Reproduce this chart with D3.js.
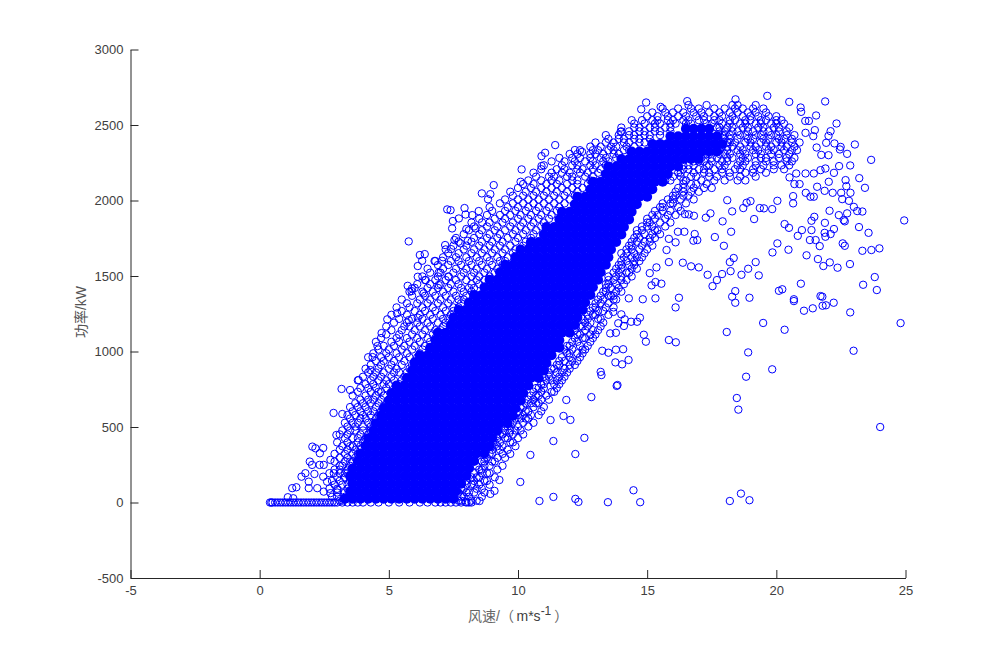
<!DOCTYPE html>
<html><head><meta charset="utf-8">
<script src="https://cdn.jsdelivr.net/npm/d3@7/dist/d3.min.js"></script>
<style>html,body{margin:0;background:#fff}svg{display:block}</style></head>
<body><svg id="c" width="1000" height="650"></svg>
<script>
const xTicks=[-5,0,5,10,15,20,25];
const yTicks=[-500,0,500,1000,1500,2000,2500,3000];
const xTitleHead="风速/（";
const xTitleUnit="m*s";
const xTitleExp="-1";
const xTitleTail="）";
const yTitle="功率/kW";
const zeroWind=[0.4,0.45,0.5,0.6,0.7,0.8,0.9,1,1.1,1.2,1.3,1.4,1.5,1.6,1.7,1.8,1.9,2,2.1,2.2,2.3,2.4,2.5,2.6,2.7,2.8,2.9,3,3.2,3.4,3.6,3.8,4,4.3,4.6,5,5.4,5.8,6.2,6.5,6.8,7,7.2,7.4,7.6,7.8,8,8.1,8.2];
const corePower=[25,75,125,175,225,275,325,375,425,475,525,575,625,675,725,775,825,875,925,975,1025,1075,1125,1175,1225,1275,1325,1375,1425,1475,1525,1575,1625,1675,1725,1775,1825,1875,1925,1975,2025,2075,2125,2175,2225,2275,2325,2375,2425,2475];
const coreWind=[
[3.3,3.6,3.9,4.2,4.5,4.8,5.1,5.4,5.7,6,6.3,6.6,6.9,7.2,7.5],
[3.5,3.8,4.1,4.4,4.7,5,5.3,5.6,5.9,6.2,6.5,6.8,7.1,7.4,7.6],
[3.6,3.9,4.2,4.5,4.8,5.1,5.4,5.7,6,6.3,6.6,6.9,7.2,7.5,7.8],
[3.5,3.8,4.1,4.4,4.7,5,5.3,5.6,5.9,6.2,6.5,6.8,7.1,7.4,7.7,8],
[3.6,3.9,4.2,4.5,4.8,5.1,5.4,5.7,6,6.3,6.6,6.9,7.2,7.5,7.8,8.1],
[3.8,4.1,4.4,4.7,5,5.3,5.6,5.9,6.2,6.5,6.8,7.1,7.4,7.7,8,8.3],
[3.9,4.2,4.5,4.8,5.1,5.4,5.7,6,6.3,6.6,6.9,7.2,7.5,7.8,8.1,8.4,8.7],
[4.1,4.4,4.7,5,5.3,5.6,5.9,6.2,6.5,6.8,7.1,7.4,7.7,8,8.3,8.6,8.9],
[4.2,4.5,4.8,5.1,5.4,5.7,6,6.3,6.6,6.9,7.2,7.5,7.8,8.1,8.4,8.7,9],
[4.4,4.7,5,5.3,5.6,5.9,6.2,6.5,6.8,7.1,7.4,7.7,8,8.3,8.6,8.9,9.2],
[4.5,4.8,5.1,5.4,5.7,6,6.3,6.6,6.9,7.2,7.5,7.8,8.1,8.4,8.7,9,9.3,9.6],
[4.7,5,5.3,5.6,5.9,6.2,6.5,6.8,7.1,7.4,7.7,8,8.3,8.6,8.9,9.2,9.5,9.8],
[4.8,5.1,5.4,5.7,6,6.3,6.6,6.9,7.2,7.5,7.8,8.1,8.4,8.7,9,9.3,9.6,9.9],
[5,5.3,5.6,5.9,6.2,6.5,6.8,7.1,7.4,7.7,8,8.3,8.6,8.9,9.2,9.5,9.8,10.1],
[5.1,5.4,5.7,6,6.3,6.6,6.9,7.2,7.5,7.8,8.1,8.4,8.7,9,9.3,9.6,9.9,10.2],
[5.3,5.6,5.9,6.2,6.5,6.8,7.1,7.4,7.7,8,8.3,8.6,8.9,9.2,9.5,9.8,10.1,10.4],
[5.7,6,6.3,6.6,6.9,7.2,7.5,7.8,8.1,8.4,8.7,9,9.3,9.6,9.9,10.2,10.5,10.8],
[5.9,6.2,6.5,6.8,7.1,7.4,7.7,8,8.3,8.6,8.9,9.2,9.5,9.8,10.1,10.4,10.7,11],
[6,6.3,6.6,6.9,7.2,7.5,7.8,8.1,8.4,8.7,9,9.3,9.6,9.9,10.2,10.5,10.8,11.1],
[6.2,6.5,6.8,7.1,7.4,7.7,8,8.3,8.6,8.9,9.2,9.5,9.8,10.1,10.4,10.7,11,11.3],
[6.6,6.9,7.2,7.5,7.8,8.1,8.4,8.7,9,9.3,9.6,9.9,10.2,10.5,10.8,11.1,11.4,11.6],
[6.8,7.1,7.4,7.7,8,8.3,8.6,8.9,9.2,9.5,9.8,10.1,10.4,10.7,11,11.3,11.6],
[6.9,7.2,7.5,7.8,8.1,8.4,8.7,9,9.3,9.6,9.9,10.2,10.5,10.8,11.1,11.4,11.7,12],
[7.4,7.7,8,8.3,8.6,8.9,9.2,9.5,9.8,10.1,10.4,10.7,11,11.3,11.6,11.9,12.2],
[7.5,7.8,8.1,8.4,8.7,9,9.3,9.6,9.9,10.2,10.5,10.8,11.1,11.4,11.7,12,12.3],
[7.7,8,8.3,8.6,8.9,9.2,9.5,9.8,10.1,10.4,10.7,11,11.3,11.6,11.9,12.2,12.5],
[8.1,8.4,8.7,9,9.3,9.6,9.9,10.2,10.5,10.8,11.1,11.4,11.7,12,12.3,12.6],
[8.3,8.6,8.9,9.2,9.5,9.8,10.1,10.4,10.7,11,11.3,11.6,11.9,12.2,12.5,12.8],
[8.7,9,9.3,9.6,9.9,10.2,10.5,10.8,11.1,11.4,11.7,12,12.3,12.6,12.9],
[8.9,9.2,9.5,9.8,10.1,10.4,10.7,11,11.3,11.6,11.9,12.2,12.5,12.8,13.1],
[9.3,9.6,9.9,10.2,10.5,10.8,11.1,11.4,11.7,12,12.3,12.6,12.9,13.2],
[9.5,9.8,10.1,10.4,10.7,11,11.3,11.6,11.9,12.2,12.5,12.8,13.1,13.4],
[9.9,10.2,10.5,10.8,11.1,11.4,11.7,12,12.3,12.6,12.9,13.2,13.5],
[10.1,10.4,10.7,11,11.3,11.6,11.9,12.2,12.5,12.8,13.1,13.4,13.6],
[10.5,10.8,11.1,11.4,11.7,12,12.3,12.6,12.9,13.2,13.5,13.8],
[11,11.3,11.6,11.9,12.2,12.5,12.8,13.1,13.4,13.7,14],
[11.1,11.4,11.7,12,12.3,12.6,12.9,13.2,13.5,13.8,14.1],
[11.6,11.9,12.2,12.5,12.8,13.1,13.4,13.7,14,14.3],
[11.7,12,12.3,12.6,12.9,13.2,13.5,13.8,14.1,14.4],
[12.2,12.5,12.8,13.1,13.4,13.7,14,14.3,14.6],
[12.3,12.6,12.9,13.2,13.5,13.8,14.1,14.4,14.7,15],
[12.8,13.1,13.4,13.7,14,14.3,14.6,14.9,15.2],
[12.9,13.2,13.5,13.8,14.1,14.4,14.7,15,15.3,15.6],
[13.4,13.7,14,14.3,14.6,14.9,15.2,15.5,15.8],
[13.5,13.8,14.1,14.4,14.7,15,15.3,15.6,15.9,16.2],
[14,14.3,14.6,14.9,15.2,15.5,15.8,16.1,16.4,16.7,17],
[14.4,14.7,15,15.3,15.6,15.9,16.2,16.5,16.8,17.1,17.4,17.7],
[15.2,15.5,15.8,16.1,16.4,16.7,17,17.3,17.6,17.9],
[15.9,16.2,16.5,16.8,17.1,17.4,17.7],
[16.5,16.8,17.1,17.4]];
const flankPower=[12,38,66,91,118,143,167,194,218,243,271,296,322,349,373,398,426,451,477,503,528,556,579,604,632,657,681,708,733,758,784,809,833,861,886,911,937,962,988,1013,1037,1064,1089,1113,1141,1166,1191,1216,1243,1268,1292,1319,1344,1369,1396,1421,1446,1473,1497,1522,1548,1573,1599,1624,1651,1676,1701,1727,1752,1777,1803,1828,1854,1879,1904,1931,1956,1981,2007,2032,2058,2083,2109];
const flankWind=[
[3.1,3.2,7.7,7.8,8.2,8.4],
[2.8,3,3.3,7.8,7.9,8.1,8.6],
[3,3.3,7.7,8,8.1,8.3,8.7],
[2.7,3,3.4,7.8,7.9,8.4,8.6],
[2.9,3.2,3.4,8,8.2,8.3,8.5,8.9],
[2.8,3.1,3.5,8,8.3,8.7,8.8],
[3,3.3,3.5,8.2,8.4,8.5,9.1],
[2.7,3.1,3.3,3.4,8.3,8.6,8.8,8.9],
[2.9,3.1,3.4,3.6,8.5,8.6,9.2],
[3.1,3.2,3.5,8.4,8.7,8.9,9.4],
[2.9,3.3,3.5,3.6,8.6,8.7,9,9.1],
[3.1,3.4,3.7,8.7,8.8,9.2,9.5],
[2.9,3.3,3.6,3.8,8.9,9,9.4,9.7],
[3.1,3.4,3.7,3.9,9,9.3,9.6],
[3.2,3.5,3.6,3.9,9,9.2,9.4,9.9],
[3,3.4,3.8,4,9.1,9.3,9.7,9.8],
[3.3,3.6,3.8,4.1,9.2,9.5,9.6,10],
[3.1,3.4,3.9,4.2,9.3,9.4,9.8,10.2],
[3.2,3.5,3.7,4,4.3,9.5,9.7,9.9,10.1],
[3.4,3.7,4,4.3,9.5,9.6,10,10.4],
[3.3,3.6,3.8,4.2,4.4,9.7,9.8,10.2,10.6],
[3.5,3.9,4.1,4.5,9.9,10.1,10.3,10.4],
[3.4,3.7,4,4.3,4.6,10,10.2,10.5,10.8],
[3.6,3.9,4.2,4.4,4.7,10,10.3,10.4,10.9],
[3.5,3.8,4.1,4.5,4.8,10.1,10.2,10.6,11],
[3.7,4,4.3,4.6,4.9,10.3,10.5,10.7,10.8],
[3.9,4.2,4.4,4.7,5,10.4,10.6,10.9,11.2],
[3.6,4.1,4.5,4.8,5.1,10.5,10.7,10.8,11.1],
[3.8,4.3,4.6,4.7,5.2,10.6,10.9,11.3,11.4],
[3.9,4.2,4.5,4.9,5.3,10.7,10.8,11,11.5],
[4.1,4.4,4.8,5,5.4,10.9,11,11.4,11.6],
[3.8,4.3,4.6,4.9,5.2,5.5,11.1,11.3,11.5,11.7],
[4,4.4,4.7,5.1,5.6,11,11.2,11.6,11.8],
[4.2,4.5,4.8,5.2,5.4,5.7,11.2,11.5,11.7,11.9],
[4.1,4.6,5,5.3,5.8,11.3,11.4,11.8,12],
[4.3,4.7,5.1,5.5,5.9,11.5,11.6,12,12.2],
[4.5,4.8,5.2,5.6,6,11.6,11.8,12.1,12.3],
[4.2,4.7,5,5.4,5.8,6.1,11.7,12,12.4],
[4.4,4.9,5.3,5.7,6.2,11.9,12,12.3,12.5],
[4.6,5,5.5,5.9,6.3,11.8,12.1,12.5,12.6],
[4.8,5.2,5.6,6,6.4,11.9,12,12.4,12.7],
[4.5,5.1,5.4,5.8,6.2,6.6,12.1,12.3,12.8],
[4.7,5.3,5.7,6.1,6.5,6.8,12.2,12.5,12.6,12.9],
[4.9,5.4,5.9,6.3,6.7,12.3,12.4,12.8,13],
[5.1,5.5,6,6.4,6.8,7,12.2,12.6,12.9,13.1],
[4.9,5.6,5.8,6.2,6.6,7.1,12.4,12.5,12.7,13.2],
[5.2,5.7,6.1,6.5,6.9,7.2,12.6,12.8,13.3],
[5.4,5.9,6.3,6.7,7.1,7.3,12.5,12.7,13.1,13.2],
[5.1,5.7,6.2,6.6,7,7.4,12.7,12.9,13,13.5],
[5.5,6,6.4,6.8,7.2,7.5,12.8,13.1,13.3],
[5.3,5.8,6.3,6.7,7.1,7.5,7.7,12.9,13,13.4,13.7],
[5.7,6.1,6.5,6.9,7.3,7.8,13,13.2,13.5],
[5.5,6.2,6.6,7,7.4,7.7,7.9,13.1,13.3,13.7,13.8],
[5.9,6.4,6.8,7.2,7.6,8,13.2,13.5,13.6,13.7],
[5.8,6.3,6.7,7.1,7.5,7.9,8.2,13.3,13.4,13.8,14],
[6,6.5,6.9,7.3,7.8,8.1,8.3,13.4,13.6,13.9],
[6.1,6.6,7,7.4,7.7,8.2,8.5,13.4,13.5,13.8,14.1],
[6.4,6.8,7.2,7.6,8,8.4,8.7,13.5,13.7,14,14.2],
[6.3,6.9,7.3,7.8,8.2,8.5,8.9,13.5,13.8,14,14.4],
[6.6,7,7.5,7.9,8.3,8.7,9.1,13.7,13.9,14.2,14.3],
[6.5,7.1,7.6,8,8.4,8.8,9.2,13.8,14,14.4,14.6],
[6.9,7.3,7.8,8.2,8.6,9,9.4,13.9,14,14.3,14.5],
[6.8,7.4,7.7,8.1,8.5,8.9,9.3,9.5,14,14.2,14.5,14.7],
[7.1,7.6,8,8.4,8.8,9.2,9.6,14.1,14.4,14.6,14.8],
[7.3,7.7,8.2,8.6,9,9.4,9.8,14,14.2,14.5,14.9],
[7.2,7.9,8.3,8.7,9.1,9.5,9.9,10.1,14.2,14.4,14.7,15],
[7.5,8,8.5,8.9,9.3,9.7,10.2,14.3,14.4,14.8,15.2],
[7.7,8.2,8.6,9,9.4,9.9,10.3,14.4,14.6,14.9,15.1],
[7.6,8.3,8.8,9.2,9.6,10,10.5,14.5,14.7,15.1,15.3],
[7.9,8.5,8.9,9.3,9.8,10.2,10.6,14.6,14.9,15.2,15.5],
[8.1,8.6,9.1,9.5,9.9,10.3,10.7,14.6,14.8,15.3,15.4],
[8.3,8.8,9.2,9.7,10.1,10.5,10.9,14.8,15,15.2,15.7],
[8.2,8.9,9.4,9.8,10.2,10.6,11,15,15.1,15.5,15.9],
[8.5,9.1,9.5,10,10.4,10.8,11.2,15,15.3,15.7],
[8.8,9.3,9.7,10.1,10.5,10.9,11.3,15.2,15.4,15.8,16.1],
[9,9.5,9.9,10.3,10.7,11.1,11.5,15.3,15.6,15.9,16.3],
[8.9,9.6,10,10.4,10.8,11.2,11.6,15.5,15.6,16.2],
[9.3,9.8,10.2,10.6,11,11.4,11.8,15.6,15.9,16,16.5],
[9.5,10,10.4,10.8,11.2,11.6,12,15.8,16,16.3,16.8],
[9.8,10.2,10.6,11,11.4,11.8,12.2,16,16.1,16.4,16.6],
[9.7,10.3,10.7,11.1,11.5,11.9,12.3,16.1,16.4,16.7,17],
[10,10.5,10.9,11.3,11.7,12.1,12.5,16.2,16.4,16.8,17.2,17.5],
[10.2,10.6,11.1,11.5,11.9,12.3,12.7,16.4,16.7,16.9,17.3]];
const arcPower=[2133,2158,2184,2207,2233,2259,2282,2308,2333,2357,2384,2408,2433,2458,2483,2509,2532,2558,2583,2609,2632];
const arcWind=[
[10.4,10.9,11.3,11.6,12.1,12.3,12.8,15.7,15.9,16.4,16.5,17.1,17.6,18,18.5,18.8],
[10.7,11.2,11.4,11.9,12.1,12.6,12.9,16,16.3,16.7,16.9,17.4,17.7,18.2,18.6,19.2],
[10.6,11.3,11.7,12,12.4,12.7,13.1,16.2,16.3,16.8,17.2,17.4,17.9,18.2,18.8,19.1,19.6],
[10.9,11.5,11.8,12.3,12.5,12.9,13.2,16.4,16.6,17,17.2,17.6,17.9,18.4,18.6,19.1,19.4,19.9,20.3],
[11,11.7,12.1,12.3,12.8,13,13.4,16.4,16.6,16.8,17.3,17.4,17.8,18,18.5,18.7,19.2,19.5,19.9,20.2,20.5],
[11.3,11.8,12.2,12.6,12.9,13.3,13.5,16.8,17,17.2,17.5,17.9,18.1,18.6,18.8,19.2,19.6,19.9,20.4,20.6],
[11.6,12.1,12.4,12.8,13.2,13.4,13.8,17,17.1,17.5,17.7,18.1,18.3,18.7,18.9,19.4,19.6,20.1,20.4,20.7],
[12,12.3,12.8,13,13.3,13.7,13.9,17.3,17.4,17.8,18,18.2,18.6,18.8,19.2,19.4,19.8,20.1,20.5],
[12.4,12.9,13.1,13.5,13.7,14.1,14.3,17.7,17.8,18.1,18.5,18.7,19.1,19.3,19.7,19.9,20.3,20.6,20.8],
[12.8,13.2,13.6,13.8,14.2,14.5,17.9,18.1,18.3,18.6,19,19.2,19.6,19.8,20.2,20.4,20.7],
[13,13.4,13.7,14.1,14.3,14.7,14.9,18.1,18.2,18.4,18.8,19,19.4,19.6,20,20.2,20.6,20.9],
[13.5,13.9,14.1,14.5,14.7,15.1,18,18.2,18.5,18.9,19.1,19.5,19.7,20.1,20.3,20.6],
[13.4,13.9,14.3,14.5,14.9,15.1,15.5,17.9,18,18.2,18.6,18.8,19.2,19.4,19.8,20,20.4,20.7],
[14,14.3,14.7,14.9,15.3,15.5,15.9,17.8,18,18.3,18.5,18.9,19.1,19.5,19.7,20.1,20.4],
[14,14.5,14.7,15.1,15.3,15.7,15.9,17.7,17.8,18.1,18.3,18.7,18.9,19.3,19.5,19.9,20.1,20.5],
[14.5,14.9,15.3,15.5,15.9,16.1,16.5,16.7,17.3,17.5,17.9,18.2,18.6,18.8,19.2,19.4,19.8,20,20.3],
[14.4,14.8,15.2,15.4,15.8,16,16.4,16.6,17,17.2,17.6,17.8,18.2,18.4,18.8,19,19.4,19.6,20,20.2],
[15,15.4,15.8,16.2,16.5,16.9,17.2,17.6,17.9,18.3,18.7,19,19.3,19.7,20],
[15.2,15.7,16,16.4,16.8,17.1,17.4,17.8,18.2,18.5,18.9,19.2,19.6],
[15.6,16.2,16.7,17,17.6,18,18.4,18.7,19.1,19.5],
[16.6,17.3,18.3,18.5,19.2]];
const sparseWind=[24.81,22.86,22.99,24.02,19.49,20.32,18.08,18.91,19.84,18.83,18.47,18.53,18.63,18.2,18.96,14.47,13.48,14.73,21.07,21.41,21.79,21.92,22.22,16.1,15.84,16.11,14.87,14.95,14.72,14.61,14.38,14.1,14.13,13.88,14,13.69,13.79,13.57,14.07,13.79,13.5,14.28,13.77,14.03,13.82,13.23,13.26,18.41,20.68,24.95,23.67,23.04,21.89,22.33,21.54,23.21,23.43,22.86,22.74,22.49,22.46,22.25,21.93,22.1,22.02,21.49,21.43,21.13,21.12,21.26,20.94,20.96,20.5,19.65,21.56,22.02,21.74,22.68,22.71,22.87,22.51,22.55,22.81,22.18,21.87,21.45,21.32,21.14,21.58,22.03,20.7,20.9,20.51,20.77,21.45,21.71,21.13,21.9,22.43,22.23,23,23.33,23.13,22.74,22.42,22.61,22.65,23.2,23.57,22.23,22.1,21.87,21.88,21.47,21.36,20.99,21.36,20.83,20.49,20.32,21.3,21.52,21.68,21.9,22.57,22.65,23.33,23.68,23.99,20.04,19.85,20.47,21.17,21.61,21.82,22.07,22.37,22.85,23.81,23.89,23.36,20.95,20.23,20.1,21.71,21.78,20.68,18.41,18.29,18.96,16.23,15.32,14.29,14.83,19.32,18.91,19.2,18.65,18.23,18.2,18.35,17.9,17.7,17.53,17.34,17,16.7,16.38,15.84,15.55,15.32,15.17,15.36,15.1,15.75,17.97,17.62,18.25,17.92,19.14,18.29,18.1,20.04,20.65,20.65,19.84,19.52,19.36,19,18.85,18.72,22.06,16.81,16.61,16.46,17.27,17.45,16.19,16.44,16.84,16.79,16.94,16.1,15.84,16.55,14.96,14.77,15.52,18.42,13.97,11.44,10.91,11.05,10.91,10.14,12.2,12.48,9.06,8.6,8.93,10.1,8.84,7.26,7.39,7.93,8.48,5.77,8.23,7.97,7.71,7.48,7.45,8,8.36,8.61,7.18,7.54,7.78,7.41,8.06,6.39,6.2,6.29,6.77,7.06,6.12,6.12,6.43,6.93,7.32,5.73,5.9,5.88,6.35,6.93,5.32,4.94,5.77,6.12,2.04,2.16,2.33,2.46,1.94,2.03,2.32,2.48,2.12,1.77,1.62,1.9,1.9,2.23,1.26,1.42,1.09,1.3,2.46,2.48,2.74,2.87,3.02,2.74,2.61,2.86,3.2,3.17,2.97,3.83,4.56,4.72,4.37,4.29,3.5,10.83,11.37,12.22,12.34,12.57,12.22,12.84,11.76,11.37,10.09,9.67,13.2,13.85,11.87,11.26,7.97,8.51,8.93,9.09,9.28,10.48,12.03];
const sparsePower=[1188,1259,1005,500,1189,1144,1129,994,882,833,692,615,59,10,15,81,2,2,1270,1286,1303,1306,1323,1292,1076,1061,1111,1065,1224,1197,1197,1169,1213,1187,1246,1262,1124,1120,1015,1012,992,944,928,915,772,844,1005,1323,1334,1868,2269,2371,2656,2510,2563,2148,2084,2232,2309,2355,2338,2378,2382,2459,2428,2466,2426,2448,2527,2527,2616,2587,2653,2693,2351,2300,2302,2135,2095,2051,2051,2009,1998,2051,2064,2025,2025,2051,2091,2124,2109,2109,2153,2179,2179,2201,2179,2212,2228,2183,1958,1927,1930,1915,1903,1870,1862,1824,1786,1811,1778,1786,1852,1892,1866,1804,1804,1766,1819,1844,1738,1738,1698,1760,1716,1700,1667,1672,1683,1716,1656,1674,1637,1612,1566,1590,1555,1579,1493,1407,1442,1449,1412,1402,1367,1363,1346,1400,1363,1356,1356,1352,1352,1346,1504,1548,1592,1508,1532,1592,1619,1513,1473,1433,1508,1557,1564,1588,1592,1449,1460,1438,1557,1519,1672,1700,1758,1793,1862,1877,1928,2002,1998,1981,2029,1943,1948,1950,1996,1985,1950,1932,1899,1908,1910,1886,1915,1793,1793,1778,1734,1738,1723,1746,2658,2649,2604,2620,2670,2455,2367,2294,2316,2228,2206,2334,2322,2102,2047,2042,2124,2008,1941,1936,1950,1930,1729,1903,1907,1881,1864,1815,1811,1815,1855,1705,1738,1716,1678,1733,1645,1639,1601,1599,1601,1566,1495,1473,1522,1495,1435,1418,1400,1385,1440,1253,1213,1208,1224,370,359,326,361,271,249,249,249,189,194,171,138,95,95,95,101,35,28,171,72,282,194,83,62,138,593,586,752,447,811,1036,1122,963,877,745,10,37,24,4,428,321,698,573,407,136,460,865,778,679,546,4,10,57,77,149,315,547];

const x=d3.scaleLinear().domain([-5,25]).range([130.5,905.5]);
const y=d3.scaleLinear().domain([-500,3000]).range([578,49.5]);
const svg=d3.select("#c");
svg.append("rect").attr("width",1000).attr("height",650).attr("fill","#fff");
const blue="#0000ff";
const rowsToPts=(levels,rows)=>levels.flatMap((p,i)=>rows[i].map(w=>[w,p]));
const corePts=rowsToPts(corePower,coreWind);
const openPts=[...zeroWind.map(w=>[w,0]),
 ...rowsToPts(flankPower,flankWind),
 ...rowsToPts(arcPower,arcWind),
 ...sparseWind.map((w,i)=>[w,sparsePower[i]])];
svg.append("g").selectAll("circle").data(corePts).join("circle")
 .attr("cx",d=>x(d[0])).attr("cy",d=>y(d[1])).attr("r",5).attr("fill",blue);
svg.append("g").selectAll("circle").data(openPts).join("circle")
 .attr("cx",d=>x(d[0])).attr("cy",d=>y(d[1])).attr("r",3.7)
 .attr("fill","none").attr("stroke",blue).attr("stroke-width",1);
const font="'Liberation Sans',Arial,sans-serif";
const ink="#262626", txt="#404040";
const gx=svg.append("g").attr("transform","translate(0,578)")
 .call(d3.axisBottom(x).tickValues(xTicks).tickFormat(String).tickSizeInner(-8).tickSizeOuter(0).tickPadding(8));
const gy=svg.append("g").attr("transform","translate(130.5,0)")
 .call(d3.axisLeft(y).tickValues(yTicks).tickFormat(String).tickSizeInner(-8).tickSizeOuter(0).tickPadding(7));
for(const g of [gx,gy]){
 g.selectAll("path,line").attr("stroke",ink).attr("stroke-width",1);
 g.selectAll("text").attr("fill",txt).attr("font-family",font).attr("font-size",13);
}
const cjk="'Liberation Sans','Noto Sans CJK SC',sans-serif";
const xl=svg.append("text").attr("x",468).attr("y",621).attr("text-anchor","start")
 .attr("font-family",cjk).attr("font-size",14).attr("fill",txt);
xl.append("tspan").attr("fill","#666").text(xTitleHead);
xl.append("tspan").attr("x",516.5).text(xTitleUnit);
xl.append("tspan").attr("dy",-6).attr("font-size",12).text(xTitleExp);
xl.append("tspan").attr("dy",6).attr("dx",3).attr("fill","#666").text(xTitleTail);
svg.append("text").attr("transform","translate(86,312) rotate(-90)").attr("text-anchor","middle")
 .attr("font-family",cjk).attr("font-size",14).attr("fill","#555").text(yTitle);
</script></body></html>
